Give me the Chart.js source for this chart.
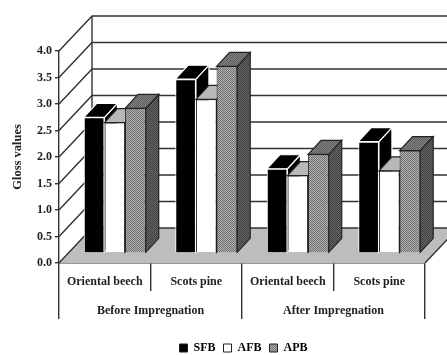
<!DOCTYPE html>
<html>
<head>
<meta charset="utf-8">
<style>
html, body { margin: 0; padding: 0; background: #fff; }
#wrap { width: 447px; height: 355px; }
</style>
<script src="https://cdn.jsdelivr.net/npm/chart.js@4/dist/chart.umd.min.js"></script>
</head>
<body>
<div id="wrap"><canvas id="chart" width="447" height="355"></canvas></div>
<script>
var woods = ["Oriental beech", "Scots pine", "Oriental beech", "Scots pine"];
var stages = ["Before Impregnation", "After Impregnation"];
var seriesNames = ["SFB", "AFB", "APB"];
var sfb = [2.56, 3.28, 1.59, 2.10];
var afb = [2.46, 2.90, 1.46, 1.55];
var apb = [2.73, 3.52, 1.86, 1.93];

var serif = "'Liberation Serif', serif";
var lineColor = "#333";

//dithered gray like the printed hatch
function dither(light, dark) {
    var c = document.createElement("canvas");
    c.width = 2;
    c.height = 2;
    var g = c.getContext("2d");
    g.fillStyle = light;
    g.fillRect(0, 0, 2, 2);
    g.fillStyle = dark;
    g.fillRect(0, 0, 1, 1);
    g.fillRect(1, 1, 1, 1);
    return g.createPattern(c, "repeat");
}

var faces = [
    { edge: "#fff", top: "#000", side: "#000" },
    { edge: "#222", top: "#b8b8b8", side: "#b8b8b8" },
    { edge: "#222", top: dither("#858585", "#5c5c5c"), side: dither("#6a6a6a", "#3c3c3c") }
];

//how far the bar row and the back wall sit behind the axis plane
var barShift = { x: 10, y: -10 };
var wallDepth = { x: 33, y: -35 };
var barDepth = { x: 13, y: -14 };

function poly(ctx, pts, fill, stroke) {
    ctx.beginPath();
    ctx.moveTo(pts[0][0], pts[0][1]);
    for (var i = 1; i < pts.length; i++) ctx.lineTo(pts[i][0], pts[i][1]);
    ctx.closePath();
    if (fill) { ctx.fillStyle = fill; ctx.fill(); }
    if (stroke) { ctx.strokeStyle = stroke; ctx.lineWidth = 1.2; ctx.stroke(); }
}

var box3d = {
    id: "box3d",
    //legend sits under the plot, not under the whole canvas
    afterLayout: function(chart) {
        var lg = chart.legend;
        lg.left += 31;
        lg.right += 31;
        lg.top += 9;
        lg.bottom += 9;
    },
    beforeDatasetsDraw: function(chart) {
        var ctx = chart.ctx, a = chart.chartArea, y = chart.scales.y;
        var zero = y.getPixelForValue(0);
        ctx.save();
        //floor
        poly(ctx, [[a.left, zero], [a.right, zero], [a.right + wallDepth.x, zero + wallDepth.y], [a.left + wallDepth.x, zero + wallDepth.y]], "#bdbdbd");
        //side wall and back wall lines
        ctx.strokeStyle = lineColor;
        ctx.lineWidth = 1.4;
        y.ticks.forEach(function(t) {
            var py = y.getPixelForValue(t.value);
            ctx.beginPath();
            ctx.moveTo(a.left, py);
            ctx.lineTo(a.left + wallDepth.x, py + wallDepth.y);
            ctx.lineTo(chart.width, py + wallDepth.y);
            ctx.stroke();
        });
        ctx.beginPath();
        ctx.moveTo(a.left + wallDepth.x, y.getPixelForValue(4) + wallDepth.y);
        ctx.lineTo(a.left + wallDepth.x, zero + wallDepth.y);
        ctx.moveTo(a.right, zero);
        ctx.lineTo(a.right + wallDepth.x, zero + wallDepth.y);
        ctx.stroke();
        ctx.restore();

        //bars, left to right so nearer faces cover the ones behind
        ctx.save();
        ctx.translate(barShift.x, barShift.y);
        var dx = barDepth.x, dy = barDepth.y;
        woods.forEach(function(w, i) {
            faces.forEach(function(f, s) {
                var bar = chart.getDatasetMeta(s).data[i];
                var l = bar.x - bar.width / 2, r = bar.x + bar.width / 2;
                poly(ctx, [[r, bar.y], [r + dx, bar.y + dy], [r + dx, bar.base + dy], [r, bar.base]], f.side, f.edge);
                poly(ctx, [[l, bar.y], [l + dx, bar.y + dy], [r + dx, bar.y + dy], [r, bar.y]], f.top, f.edge);
                bar.draw(ctx);
            });
        });
        ctx.restore();
    },
    //the faces above already drew every bar
    beforeDatasetDraw: function() {
        return false;
    }
};

var tickFont = { family: serif, size: 12, weight: "bold" };

new Chart(document.getElementById("chart"), {
    type: "bar",
    data: {
        labels: woods,
        datasets: [
            { label: seriesNames[0], data: sfb, backgroundColor: "#000", borderColor: "#fff", borderWidth: 1 },
            { label: seriesNames[1], data: afb, backgroundColor: "#fff", borderColor: "#222", borderWidth: 1 },
            { label: seriesNames[2], data: apb, backgroundColor: dither("#b4b4b4", "#6e6e6e"), borderColor: "#222", borderWidth: 1 }
        ]
    },
    options: {
        responsive: false,
        animation: false,
        barPercentage: 1,
        categoryPercentage: 0.677,
        layout: { padding: { top: 51, right: 22, bottom: 0, left: 0 } },
        plugins: {
            tooltip: { enabled: false },
            legend: {
                position: "bottom",
                labels: {
                    usePointStyle: true,
                    pointStyle: "rect",
                    pointStyleWidth: 8,
                    boxHeight: 8,
                    padding: 8,
                    color: "#222",
                    font: { family: serif, size: 12, weight: "bold" },
                    generateLabels: function(chart) {
                        return chart.data.datasets.map(function(d, i) {
                            return {
                                text: d.label,
                                fillStyle: d.backgroundColor,
                                strokeStyle: "#222",
                                lineWidth: 1,
                                pointStyle: "rect",
                                datasetIndex: i
                            };
                        });
                    }
                }
            }
        },
        scales: {
            x: {
                position: "bottom",
                grid: { offset: true, drawOnChartArea: false, tickLength: 28, color: lineColor, lineWidth: 1.4 },
                border: { color: lineColor, width: 1.4 },
                ticks: { color: "#222", font: tickFont, padding: -16, maxRotation: 0, autoSkip: false },
                afterFit: function(s) { s.height = 28; }
            },
            x2: {
                type: "category",
                position: "bottom",
                labels: stages,
                grid: { offset: true, drawOnChartArea: false, tickLength: 28, color: lineColor, lineWidth: 1.4 },
                border: { display: false },
                ticks: { color: "#222", font: tickFont, padding: -15, maxRotation: 0, autoSkip: false },
                afterFit: function(s) { s.height = 34; }
            },
            y: {
                min: 0,
                max: 4,
                grid: { drawOnChartArea: false, tickLength: 4, color: lineColor, lineWidth: 1.4 },
                border: { color: lineColor, width: 1.4 },
                ticks: {
                    stepSize: 0.5,
                    color: "#222",
                    padding: 3,
                    font: tickFont,
                    callback: function(v) { return v.toFixed(1); }
                },
                title: { display: true, text: "Gloss values", color: "#222", font: { family: serif, size: 12.5, weight: "bold" }, padding: { top: 10, bottom: 0 } },
                afterFit: function(s) { s.width = 59; }
            }
        }
    },
    plugins: [box3d]
});
</script>
</body>
</html>
